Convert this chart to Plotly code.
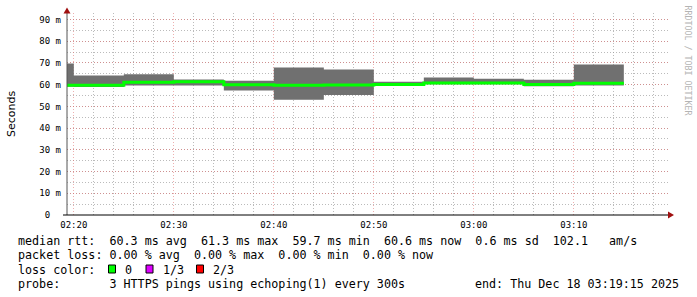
import plotly.graph_objects as go

# ---------------- data ----------------
block_start = ["2025-12-18 02:15:00", "2025-12-18 02:20:00", "2025-12-18 02:25:00",
               "2025-12-18 02:30:00", "2025-12-18 02:35:00", "2025-12-18 02:40:00",
               "2025-12-18 02:45:00", "2025-12-18 02:50:00", "2025-12-18 02:55:00",
               "2025-12-18 03:00:00", "2025-12-18 03:05:00", "2025-12-18 03:10:00"]
block_end = "2025-12-18 03:15:00"
rtt_min = [59.0, 58.9, 59.6, 59.6, 57.3, 53.1, 55.3, 59.6, 60.2, 60.2, 59.3, 59.6]   # ms
rtt_max = [69.8, 64.2, 64.8, 62.4, 61.8, 67.9, 67.0, 61.3, 63.3, 62.7, 62.3, 69.3]   # ms
rtt_median = [59.7, 59.7, 61.1, 61.3, 60.0, 59.7, 59.8, 60.1, 60.8, 60.8, 60.1, 60.6]  # ms

x_range = ["2025-12-18 02:19:19", "2025-12-18 03:19:25"]
y_tick_vals = [0, 10, 20, 30, 40, 50, 60, 70, 80, 90]
y_tick_text = ["0\u00a0\u00a0", "10 m", "20 m", "30 m", "40 m", "50 m", "60 m", "70 m", "80 m", "90 m"]

legend_line1 = "median rtt:  60.3 ms avg  61.3 ms max  59.7 ms min  60.6 ms now  0.6 ms sd  102.1   am/s"
legend_line2 = "packet loss: 0.00 % avg  0.00 % max  0.00 % min  0.00 % now"
loss_label = "loss color:"
loss_levels = ["0", "1/3", "2/3"]
loss_colors = ["#00ff00", "#dd00ff", "#ff0000"]
probe_line = "probe:       3 HTTPS pings using echoping(1) every 300s"
end_line = "end: Thu Dec 18 03:19:15 2025"
watermark = "RRDTOOL / TOBI OETIKER"
y_title = "Seconds"

# ---------------- geometry helpers ----------------
W, H = 697, 297
L, R, T, B = 67, 668, 13, 215


def px(x):
    return (x - L) / (R - L)


def py(y):
    return (B - y) / (B - T)


def nb(s):
    return s.replace(" ", "\u00a0")


xs = block_start + [block_end]
y_lo = [v / 1000 for v in rtt_min] + [rtt_min[-1] / 1000]
y_hi = [v / 1000 for v in rtt_max] + [rtt_max[-1] / 1000]
y_med = [v / 1000 for v in rtt_median] + [rtt_median[-1] / 1000]

fig = go.Figure()
fig.add_trace(go.Scatter(x=xs, y=y_lo, mode="lines", line=dict(width=0, shape="hv"),
                         hoverinfo="skip", showlegend=False))
fig.add_trace(go.Scatter(x=xs, y=y_hi, mode="lines", line=dict(width=0, shape="hv"),
                         fill="tonexty", fillcolor="rgb(112,112,112)",
                         hoverinfo="skip", showlegend=False))
fig.add_trace(go.Scatter(x=xs, y=y_med, mode="lines",
                         line=dict(width=3, shape="hv", color="#00ff00"),
                         showlegend=False))

mono = "DejaVu Sans Mono"
major_grid = "rgba(222,110,110,0.55)"
minor_grid = "rgba(150,150,150,0.65)"

fig.update_xaxes(
    range=x_range, type="date", tickformat="%H:%M",
    tick0="2025-12-18 02:20:00", dtick=600000,
    showgrid=True, gridcolor=major_grid, griddash="1px,2px", gridwidth=1,
    minor=dict(dtick=120000, tick0="2025-12-18 02:20:00", showgrid=True,
               gridcolor=minor_grid, griddash="1px,2px", gridwidth=1),
    showline=False, zeroline=False, ticks="",
    tickfont=dict(family=mono, size=9, color="#000"),
    ticklabelstandoff=3,
)
fig.update_yaxes(
    range=[0, 0.093], tickvals=[v / 1000 for v in y_tick_vals], ticktext=y_tick_text,
    showgrid=True, gridcolor=major_grid, griddash="1px,2px", gridwidth=1,
    minor=dict(dtick=0.005, showgrid=True,
               gridcolor=minor_grid, griddash="1px,2px", gridwidth=1),
    showline=False, zeroline=False, ticks="",
    tickfont=dict(family=mono, size=9, color="#000"),
    ticklabelstandoff=5,
)

shapes = [
    # y axis line + arrow
    dict(type="line", xref="paper", yref="paper", x0=0, x1=0, y0=py(215), y1=py(9),
         line=dict(color="#555", width=1)),
    dict(type="path", xref="paper", yref="paper",
         path=f"M {px(63.5)} {py(13.5)} L {px(70.5)} {py(13.5)} L {px(67)} {py(7.5)} Z",
         fillcolor="#a01010", line=dict(width=0)),
    # x axis line + arrow
    dict(type="line", xref="paper", yref="paper", x0=px(63), x1=px(669), y0=0, y1=0,
         line=dict(color="#000", width=1)),
    dict(type="path", xref="paper", yref="paper",
         path=f"M {px(668)} {py(211.5)} L {px(668)} {py(218.5)} L {px(674)} {py(215)} Z",
         fillcolor="#a01010", line=dict(width=0)),
]

box_x = [108.5, 146, 196.5]
lab_x = [123, 160.7, 211]
ann = []
for bx, lx, col, lab in zip(box_x, lab_x, loss_colors, loss_levels):
    shapes.append(dict(type="rect", xref="paper", yref="paper",
                       x0=px(bx), x1=px(bx + 7), y0=py(265), y1=py(273),
                       fillcolor=col, line=dict(color="#000", width=1)))
    ann.append(dict(text=nb(lab), x=px(lx), y=py(269.5), xanchor="left", yanchor="middle"))

leg_font = dict(family=mono, size=11.7, color="#000")
ann += [
    dict(text=nb(legend_line1), x=px(16), y=py(241), xanchor="left", yanchor="middle"),
    dict(text=nb(legend_line2), x=px(16), y=py(255), xanchor="left", yanchor="middle"),
    dict(text=nb(loss_label), x=px(16), y=py(269.5), xanchor="left", yanchor="middle"),
    dict(text=nb(probe_line), x=px(16), y=py(283.5), xanchor="left", yanchor="middle"),
    dict(text=nb(end_line), x=px(681), y=py(283.5), xanchor="right", yanchor="middle"),
]
annotations = []
for a in ann:
    a.update(xref="paper", yref="paper", showarrow=False, font=leg_font)
    annotations.append(a)

annotations.append(dict(text=y_title, x=px(11), y=py(114), xref="paper", yref="paper",
                        textangle=-90, showarrow=False, xanchor="center", yanchor="middle",
                        font=dict(family="DejaVu Sans", size=11, color="#000")))
annotations.append(dict(text=nb(watermark), x=px(687.5), y=py(60), xref="paper", yref="paper",
                        textangle=90, showarrow=False, xanchor="center", yanchor="middle",
                        font=dict(family=mono, size=8.3, color="#b4b4b4")))

fig.update_layout(
    width=W, height=H,
    margin=dict(l=L, r=W - R, t=T, b=H - B, pad=0),
    plot_bgcolor="#ffffff", paper_bgcolor="#ffffff",
    shapes=shapes, annotations=annotations, showlegend=False,
)

fig.write_html("out.html", config={"displayModeBar": False})
